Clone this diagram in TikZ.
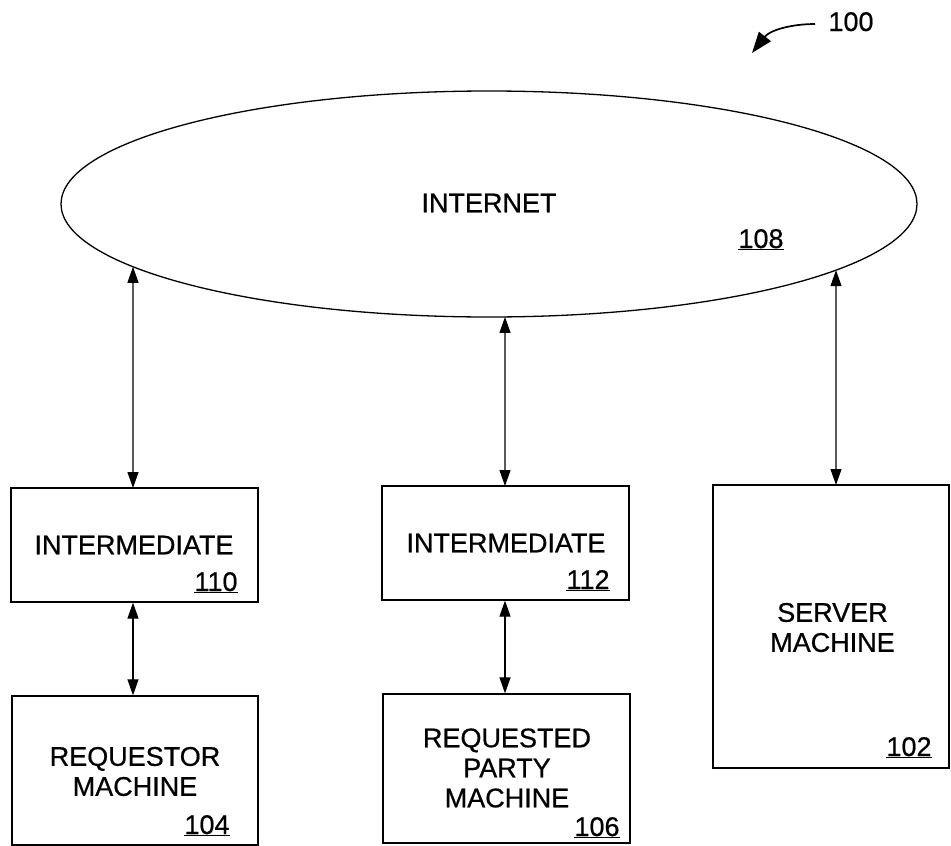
\documentclass[tikz,border=0pt]{standalone}
\usepackage{fontspec}
\setmainfont[FakeBold=0.6]{Liberation Sans}
\usetikzlibrary{arrows.meta,shapes.geometric,intersections}
\newcommand{\ulnum}[1]{\underline{#1}}
\begin{document}
\begin{tikzpicture}[x=1pt,y=-1pt,
  lbl/.style={font=\fontsize{27}{30}\selectfont, inner sep=0pt, align=center},
  box/.style={draw, line width=1.3pt, inner sep=0pt},
  conn/.style={line width=1.1pt, {Triangle[width=11pt,length=16pt]}-{Triangle[width=11pt,length=16pt]}},
]
\useasboundingbox (0,0) rectangle (951,846);
% internet
\node[draw, ellipse, line width=1.3pt, minimum width=856pt, minimum height=226pt, inner sep=0pt, name path=inetp] (inet) at (489,204) {};
\node[lbl] (tinet) at (489,203) {INTERNET};
\node[lbl, anchor=base] (n108) at (761,248) {\ulnum{108}};
% boxes
\node[box, minimum width=247pt, minimum height=114pt] (b110) at (134.5,545) {};
\node[box, minimum width=246pt, minimum height=149pt] (b104) at (135,770.5) {};
\node[box, minimum width=247pt, minimum height=114pt] (b112) at (505.5,543) {};
\node[box, minimum width=247pt, minimum height=149pt] (b106) at (506.5,768.5) {};
\node[box, minimum width=236pt, minimum height=283pt] (b102) at (831,626.5) {};
% texts
\node[lbl] (t110) at (134,545) {INTERMEDIATE};
\node[lbl, anchor=base] (n110) at (216,591) {\ulnum{110}};
\node[lbl] (t104) at (135,771.5) {REQUESTOR\\MACHINE};
\node[lbl, anchor=base] (n104) at (207,834) {\ulnum{104}};
\node[lbl] (t112) at (506,543) {INTERMEDIATE};
\node[lbl, anchor=base] (n112) at (588,589) {\ulnum{112}};
\node[lbl] (t106) at (507,768) {REQUESTED\\PARTY\\MACHINE};
\node[lbl, anchor=base] (n106) at (597,836) {\ulnum{106}};
\node[lbl] (t102) at (832.5,627.5) {SERVER\\MACHINE};
\node[lbl, anchor=base] (n102) at (909,756) {\ulnum{102}};
% figure number
\node[lbl, anchor=base] (n100) at (851,31) {100};
\coordinate (a100s) at (815,24);
\coordinate (a100e) at (752,53);
\draw[line width=1.7pt, -{Triangle[width=15pt,length=21pt]}] (a100s) .. controls (792,24) and (770,30) .. (a100e);
% connectors
\coordinate (s110) at (133,488);
\coordinate (s112) at (505,486);
\coordinate (s102) at (836,485);
\path[name path=v1] (s110) -- (s110 |- inet.center);
\path[name path=v2] (s112) -- (s112 |- inet.center);
\path[name path=v3] (s102) -- (s102 |- inet.center);
\path[name intersections={of=inetp and v1, by=e1}];
\path[name intersections={of=inetp and v2, by=e2}];
\path[name intersections={of=inetp and v3, by=e3}];
\draw[conn] (e1) -- (s110);
\draw[conn] (e2) -- (s112);
\draw[conn] (e3) -- (s102);
\draw[conn] (b110.south -| s110) -- (b104.north -| s110);
\draw[conn] (b112.south -| s112) -- (b106.north -| s112);
\end{tikzpicture}
\end{document}
